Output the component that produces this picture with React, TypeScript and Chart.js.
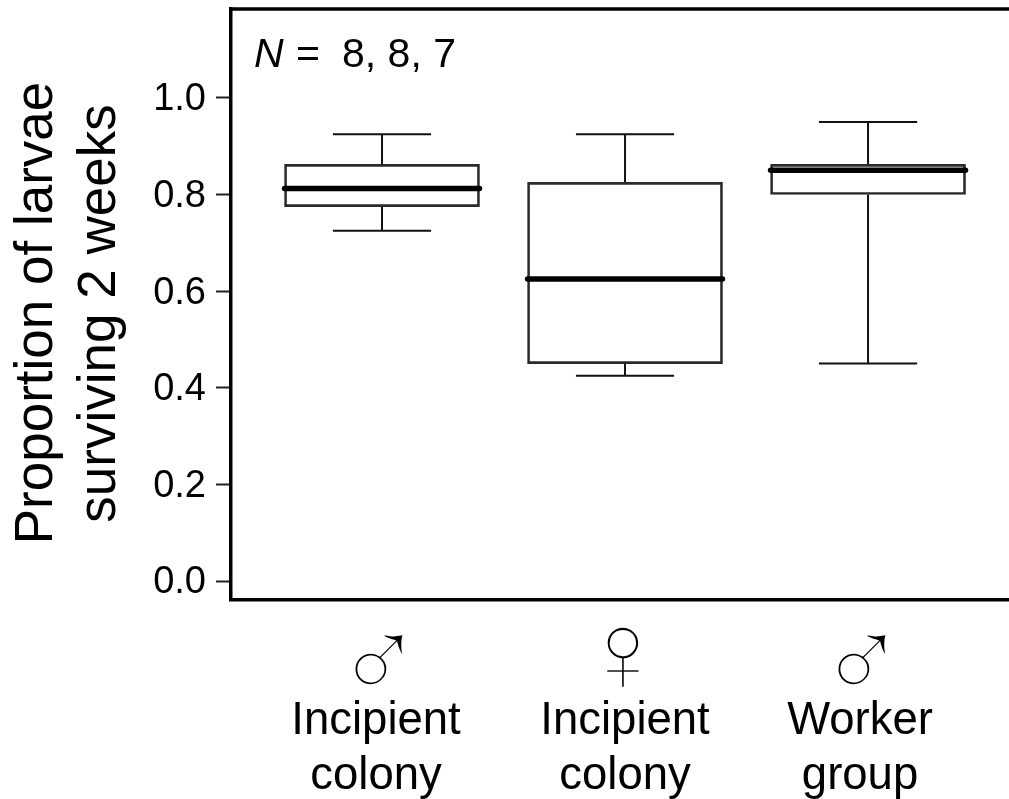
import React, { useEffect, useRef } from "react";
import { Chart, registerables } from "chart.js";

Chart.register(...registerables);

const groupPositions = [1, 2, 3];
const categoryLines = [["Incipient", "colony"], ["Incipient", "colony"], ["Worker", "group"]];
const sexSymbols = ["\u2642", "\u2640", "\u2642"];
const lowerWhisker = [0.725, 0.425, 0.45];
const upperWhisker = [0.925, 0.925, 0.95];
const firstQuartile = [0.775, 0.45, 0.8];
const thirdQuartile = [0.8625, 0.825, 0.8625];
const medians = [0.8125, 0.625, 0.85];
const yTickValues = [0, 0.2, 0.4, 0.6, 0.8, 1.0];
const yTitleLines = ["Proportion of larvae", "surviving 2 weeks"];

const FONT = '"Liberation Sans", Arial, sans-serif';
const INK = "#111";
const labelShift = [-6, 0, -8];
const symbolShift = [-3, -2, -6];
const symbolBaseline = [700, 693, 700];

const segment = (x0: number, y0: number, x1: number, y1: number, width: number, cap: CanvasLineCap = "butt") => ({
  type: "scatter" as const,
  data: [{ x: x0, y: y0 }, { x: x1, y: y1 }],
  showLine: true,
  pointRadius: 0,
  borderColor: cap === "round" ? "#000" : INK,
  borderWidth: width,
  borderCapStyle: cap,
  order: cap === "round" ? 0 : 2,
});

const BOX_HALF = 0.401;
const CAP_HALF = 0.202;

const noPadding = (s: any) => {
  s.paddingLeft = 0;
  s.paddingRight = 0;
  s.paddingTop = 0;
  s.paddingBottom = 0;
};

const overlay = {
  id: "overlay",
  afterDraw(chart: any) {
    const { ctx, chartArea, scales } = chart;
    ctx.save();
    // top of the frame
    ctx.strokeStyle = "#000";
    ctx.lineWidth = 3.5;
    ctx.beginPath();
    ctx.moveTo(chartArea.left - 2, chartArea.top);
    ctx.lineTo(chartArea.right, chartArea.top);
    ctx.stroke();

    // sample sizes
    ctx.fillStyle = "#000";
    ctx.textBaseline = "alphabetic";
    ctx.textAlign = "left";
    ctx.font = `italic 41px ${FONT}`;
    ctx.fillText("N", 254, 67);
    ctx.font = `41px ${FONT}`;
    ctx.fillText("=", 296, 67);
    ctx.fillText("8, 8, 7", 342, 67);

    // sex symbols: the white outline thins the glyph to the reference's hairline
    ctx.textAlign = "center";
    ctx.font = `118px ${FONT}`;
    ctx.strokeStyle = "#fff";
    ctx.lineWidth = 2.6;
    groupPositions.forEach((g, i) => {
      const px = scales.x.getPixelForValue(g) + symbolShift[i];
      ctx.fillText(sexSymbols[i], px, symbolBaseline[i]);
      ctx.strokeText(sexSymbols[i], px, symbolBaseline[i]);
    });

    // y axis title
    ctx.font = `53px ${FONT}`;
    const centers = [313, 313.5];
    const baselines = [52, 115];
    yTitleLines.forEach((line, i) => {
      ctx.save();
      ctx.translate(baselines[i], centers[i]);
      ctx.rotate(-Math.PI / 2);
      ctx.fillText(line, 0, 0);
      ctx.restore();
    });
    ctx.restore();
  },
};

export default function App() {
  const ref = useRef<HTMLCanvasElement>(null);
  useEffect(() => {
    document.body.style.margin = "0";
    const datasets: any[] = [
      {
        type: "bar",
        data: groupPositions.map((g, i) => ({ x: g, y: [firstQuartile[i], thirdQuartile[i]] })),
        backgroundColor: "rgba(255,255,255,0)",
        borderColor: "#2a2a2a",
        borderWidth: 2,
        borderSkipped: false,
        barThickness: 195,
        order: 1,
      },
    ];
    groupPositions.forEach((g, i) => {
      datasets.push(segment(g, upperWhisker[i], g, thirdQuartile[i], 2));
      datasets.push(segment(g, lowerWhisker[i], g, firstQuartile[i], 2));
      datasets.push(segment(g - CAP_HALF, upperWhisker[i], g + CAP_HALF, upperWhisker[i], 2));
      datasets.push(segment(g - CAP_HALF, lowerWhisker[i], g + CAP_HALF, lowerWhisker[i], 2));
      datasets.push(segment(g - BOX_HALF, medians[i], g + BOX_HALF, medians[i], 5.5, "round"));
    });
    const chart = new Chart(ref.current!, {
      data: { datasets },
      plugins: [overlay],
      options: {
        animation: false,
        responsive: false,
        layout: { padding: { top: 9, right: 0, left: 0, bottom: 0 } },
        plugins: { legend: { display: false }, tooltip: { enabled: false } },
        scales: {
          x: {
            type: "linear",
            min: 0.3786,
            max: 3.58,
            offset: false,
            grid: { display: false },
            border: { display: true, color: "#000", width: 3.5 },
            afterFit: (s: any) => { s.height = 199; noPadding(s); },
            afterBuildTicks: (s: any) => {
              const unit = 243;
              s.ticks = groupPositions.map((g, i) => ({ value: g + labelShift[i] / unit }));
            },
            ticks: {
              autoSkip: false,
              maxRotation: 0,
              padding: 85,
              color: "#000",
              font: { family: FONT, size: 45.5, lineHeight: 1.23 },
              callback: (_v: any, i: number) => categoryLines[i],
            },
          },
          y: {
            type: "linear",
            min: -0.0393,
            max: 1.184,
            grid: { drawOnChartArea: false, drawTicks: true, tickLength: 15, tickWidth: 2, tickColor: "#222" },
            border: { display: true, color: "#000", width: 3.5 },
            afterFit: (s: any) => { s.width = 231; noPadding(s); },
            afterBuildTicks: (s: any) => {
              s.ticks = yTickValues.map((value) => ({ value }));
            },
            ticks: {
              padding: 10,
              labelOffset: 2,
              color: "#000",
              font: { family: FONT, size: 38 },
              callback: (v: any) => Number(v).toFixed(1),
            },
          },
        },
      } as any,
    } as any);
    return () => chart.destroy();
  }, []);
  return <canvas ref={ref} width={1009} height={799} style={{ display: "block", width: 1009, height: 799 }} />;
}
